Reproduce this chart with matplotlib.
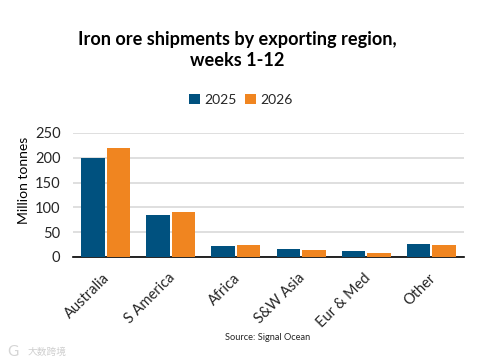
import numpy as np
import matplotlib
matplotlib.use("Agg")
import matplotlib.pyplot as plt
from matplotlib.transforms import ScaledTranslation

# Values
regions = ["Australia", "S America", "Africa", "S&W Asia", "Eur & Med", "Other"]
shipments_2025 = [199, 84, 22, 16, 13, 27]
shipments_2026 = [219, 90, 25, 15, 8, 25]
y_ticks = [0, 50, 100, 150, 200, 250]

plt.rcParams["font.family"] = ["Lato", "DejaVu Sans"]

W, H = 478, 364
fig = plt.figure(figsize=(W / 100, H / 100), dpi=100, facecolor="white")
ax = fig.add_axes([73 / W, 1 - 257 / H, (464 - 73) / W, (257 - 133) / H])

x = np.arange(len(regions))
bar_w = 0.36
ax.bar(x - 0.195, shipments_2025, bar_w, color="#00517F", label="2025", zorder=3)
ax.bar(x + 0.195, shipments_2026, bar_w, color="#F08520", label="2026", zorder=3)

ax.set_xlim(-0.5, 5.5)
ax.set_ylim(0, 250)
ax.set_yticks(y_ticks)
ax.set_xticks(x)
ax.set_xticklabels(regions, rotation=45, ha="right", rotation_mode="anchor")
ax.tick_params(axis="both", length=0, labelsize=10.5, colors="#262626")
ax.tick_params(axis="x", pad=10)
ax.tick_params(axis="y", pad=9)
# nudge the slanted labels a little to the left
shift = ScaledTranslation(-3 / 100, 0, fig.dpi_scale_trans)
for lab in ax.get_xticklabels():
    lab.set_transform(lab.get_transform() + shift)
ax.grid(axis="y", color="#D9D9D9", linewidth=1.2, zorder=0)
ax.set_axisbelow(True)
for side in ["top", "right", "left"]:
    ax.spines[side].set_visible(False)
ax.spines["bottom"].set_color("black")
ax.spines["bottom"].set_linewidth(1.2)

fig.text(24 / W, 1 - 180 / H, "Million tonnes", rotation=90, ha="center", va="center",
         fontsize=10, color="black")

fig.text(237 / W, 1 - 50 / H, "Iron ore shipments by exporting region,\nweeks 1-12",
         ha="center", va="center", fontsize=13.1, fontweight="bold", color="black", linespacing=1.35)

fig.legend(loc="center", bbox_to_anchor=(241 / W, 1 - 100 / H), ncol=2, frameon=False,
           fontsize=10, handlelength=0.75, handleheight=0.75, handletextpad=0.35, columnspacing=0.6,
           labelcolor="#262626")

fig.text(268 / W, 1 - 337 / H, "Source: Signal Ocean", ha="center", va="center", fontsize=6.7, color="#262626")

# faint watermark, bottom left corner
fig.text(28 / W, 1 - 352 / H, "大数跨境", ha="left", va="center", fontsize=7, color="#CFCFCF",
         family=["Noto Sans CJK SC", "DejaVu Sans"])
fig.text(7 / W, 1 - 352 / H, "G", ha="left", va="center", fontsize=11, color="#D5D5D5")

fig.savefig("out.png", dpi=100)
